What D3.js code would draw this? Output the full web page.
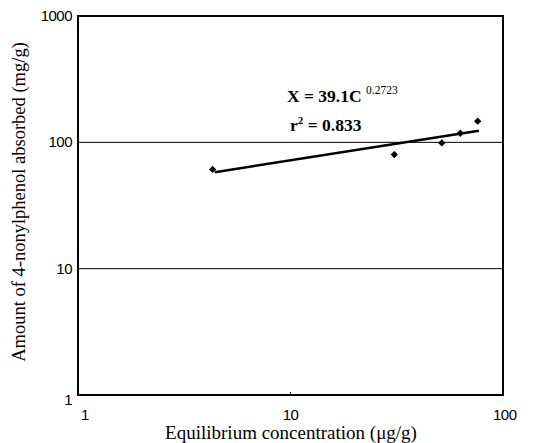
<!DOCTYPE html>
<html>
<head>
<meta charset="utf-8">
<script src="https://cdn.jsdelivr.net/npm/d3@7"></script>
<style>
  body { margin: 0; background: #fff; }
  svg text { fill: #000; }
</style>
</head>
<body>
<svg id="canvas"></svg>
<script>
let width = 537,
height = 443

// values
let concentration = [4.3, 30.8, 51.5, 63, 76]
let absorbed = [61, 80, 99, 118, 147]
let fitC = [4.4, 77]
let fitX = [58, 123.5]
let xTicks = [1, 10, 100]
let yTicks = [1, 10, 100, 1000]
let gridValues = [10, 100]

let margin = {left: 78, right: 34, top: 16, bottom: 48}

let canvas = d3.select('#canvas')
.attr('width', width)
.attr('height', height)

let x = d3.scaleLog().domain([1, 100]).range([margin.left, width - margin.right])
let y = d3.scaleLog().domain([1, 1000]).range([height - margin.bottom, margin.top])

// gridlines
canvas.selectAll('line.grid')
.data(gridValues)
.join('line')
.attr('class', 'grid')
.attr('x1', x(1)).attr('x2', x(100))
.attr('y1', (d) => y(d)).attr('y2', (d) => y(d))
.attr('stroke', '#000')
.attr('stroke-width', 1)

// frame
canvas.append('rect')
.attr('x', x(1)).attr('y', y(1000))
.attr('width', x(100) - x(1)).attr('height', y(1) - y(1000))
.attr('fill', 'none')
.attr('stroke', '#000')
.attr('stroke-width', 2)

// tick labels
canvas.selectAll('text.ytick')
.data(yTicks)
.join('text')
.attr('class', 'ytick')
.attr('x', x(1) - 6)
.attr('y', (d) => y(d) + (d === 1 ? 10 : 5))
.attr('text-anchor', 'end')
.style('font-family', 'Arial, "Liberation Sans", sans-serif')
.style('font-size', '15px')
.style('letter-spacing', '-0.5px')
.text((d) => d)

canvas.selectAll('text.xtick')
.data(xTicks)
.join('text')
.attr('class', 'xtick')
.attr('x', (d) => d === 1 ? x(d) + 3 : (d === 100 ? x(d) - 10 : x(d)))
.attr('y', y(1) + 25)
.attr('text-anchor', (d) => d === 1 ? 'start' : (d === 100 ? 'start' : 'middle'))
.style('font-family', 'Arial, "Liberation Sans", sans-serif')
.style('font-size', '15px')
.style('letter-spacing', '-0.5px')
.text((d) => d)

// small tick at 10 on the bottom axis
canvas.append('line')
.attr('x1', x(10)).attr('x2', x(10))
.attr('y1', y(1) - 3).attr('y2', y(1))
.attr('stroke', '#000')

// fit line
let line = d3.line().x((d) => x(d[0])).y((d) => y(d[1]))
canvas.append('path')
.attr('d', line(d3.zip(fitC, fitX)))
.attr('fill', 'none')
.attr('stroke', '#000')
.attr('stroke-width', 2.5)

// data points
let diamond = d3.symbol().type(d3.symbolDiamond2).size(34)
canvas.selectAll('path.pt')
.data(d3.zip(concentration, absorbed))
.join('path')
.attr('class', 'pt')
.attr('transform', (d) => `translate(${x(d[0])}, ${y(d[1])})`)
.attr('d', diamond)
.attr('fill', '#000')

// equation
let eq = canvas.append('text')
.attr('x', 287).attr('y', 102)
.style('font-family', '"Liberation Serif", "Times New Roman", serif')
.style('font-size', '17.5px')
.style('font-weight', 'bold')
eq.append('tspan').text('X = 39.1C ')
eq.append('tspan').attr('dy', -8).style('font-size', '11.5px').style('font-weight', 'normal').text('0.2723')

let r2 = canvas.append('text')
.attr('x', 290).attr('y', 131)
.style('font-family', '"Liberation Serif", "Times New Roman", serif')
.style('font-size', '17.5px')
.style('font-weight', 'bold')
r2.append('tspan').text('r')
r2.append('tspan').attr('dy', -7).style('font-size', '11px').text('2')
r2.append('tspan').attr('dy', 7).text(' = 0.833')

// axis titles
canvas.append('text')
.attr('x', 291).attr('y', 439)
.attr('text-anchor', 'middle')
.style('font-family', '"Liberation Serif", "Times New Roman", serif')
.style('font-size', '19px')
.text('Equilibrium concentration (μg/g)')

canvas.append('text')
.attr('transform', 'translate(25, 202) rotate(-90)')
.attr('text-anchor', 'middle')
.style('font-family', '"Liberation Serif", "Times New Roman", serif')
.style('font-size', '18.5px')
.text('Amount of 4-nonylphenol absorbed (mg/g)')
</script>
</body>
</html>
